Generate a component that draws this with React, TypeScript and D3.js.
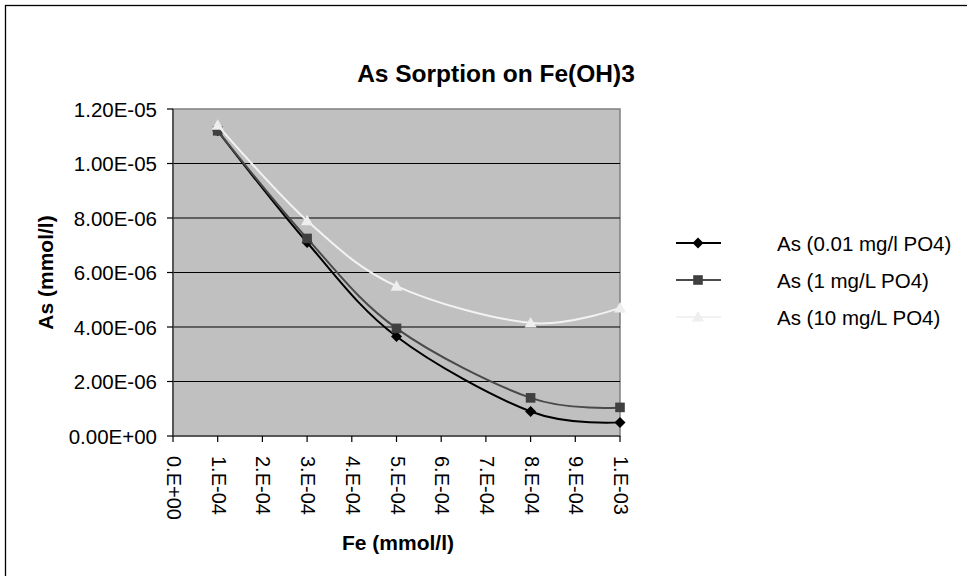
import React from "react";
import * as d3 from "d3";

const feValues = [1e-4, 3e-4, 5e-4, 8e-4, 1e-3];
const seriesNames = ["As (0.01 mg/l PO4)", "As (1 mg/L PO4)", "As (10 mg/L PO4)"];
const asLowPO4 = [1.12e-5, 7.1e-6, 3.65e-6, 0.9e-6, 0.5e-6];
const asMidPO4 = [1.12e-5, 7.25e-6, 3.95e-6, 1.4e-6, 1.05e-6];
const asHighPO4 = [1.14e-5, 7.9e-6, 5.5e-6, 4.15e-6, 4.7e-6];
const yTicks = [0, 2e-6, 4e-6, 6e-6, 8e-6, 1e-5, 1.2e-5];
const yTickLabels = ["0.00E+00", "2.00E-06", "4.00E-06", "6.00E-06", "8.00E-06", "1.00E-05", "1.20E-05"];
const xTicks = [0, 1e-4, 2e-4, 3e-4, 4e-4, 5e-4, 6e-4, 7e-4, 8e-4, 9e-4, 1e-3];
const xTickLabels = ["0.E+00", "1.E-04", "2.E-04", "3.E-04", "4.E-04", "5.E-04", "6.E-04", "7.E-04", "8.E-04", "9.E-04", "1.E-03"];

const FONT = "'Liberation Sans', Arial, sans-serif";

const styles = [
  { line: "#000000", fill: "#000000", marker: "diamond" },
  { line: "#4a4a4a", fill: "#404040", marker: "square" },
  { line: "#f2f2f2", fill: "#eeeeee", marker: "triangle" },
];

function Marker({ type, x, y, fill }: { type: string; x: number; y: number; fill: string }) {
  if (type === "diamond") {
    const r = 5.5;
    return <path d={`M${x},${y - r}L${x + r},${y}L${x},${y + r}L${x - r},${y}Z`} fill={fill} />;
  }
  if (type === "square") {
    const r = 4.8;
    return <rect x={x - r} y={y - r} width={2 * r} height={2 * r} fill={fill} />;
  }
  const r = 6;
  return <path d={`M${x},${y - r}L${x + r},${y + r * 0.75}L${x - r},${y + r * 0.75}Z`} fill={fill} />;
}

export default function App() {
  const W = 967, H = 576;
  const left = 173, right = 620, top = 109, bottom = 436;
  const x = d3.scaleLinear().domain([0, 1e-3]).range([left, right]);
  const y = d3.scaleLinear().domain([0, 1.2e-5]).range([bottom, top]);
  const data = [asLowPO4, asMidPO4, asHighPO4];
  const line = d3
    .line<[number, number]>()
    .x((d) => x(d[0]))
    .y((d) => y(d[1]))
    .curve(d3.curveCardinal.tension(0));

  const legendY = [243, 280, 317];

  return (
    <svg width={W} height={H} style={{ position: "absolute", left: 0, top: 0 }} fontFamily={FONT}>
      <rect x={0} y={0} width={W} height={H} fill="#ffffff" />
      <rect x={5.5} y={5.5} width={W + 20} height={H + 20} fill="none" stroke="#000" strokeWidth={1.3} />
      <text x={496} y={82} textAnchor="middle" fontSize={24.5} fontWeight="bold" fill="#000">
        As Sorption on Fe(OH)3
      </text>
      {/* plot area */}
      <rect x={left} y={top} width={right - left} height={bottom - top} fill="#c0c0c0" stroke="#808080" strokeWidth={1.5} />
      {yTicks.slice(1, -1).map((t) => (
        <line key={t} x1={left} x2={right} y1={y(t)} y2={y(t)} stroke="#000" strokeWidth={1.2} />
      ))}
      {/* axes */}
      <line x1={left} x2={left} y1={top} y2={bottom} stroke="#404040" strokeWidth={1.5} />
      <line x1={left} x2={right} y1={bottom} y2={bottom} stroke="#404040" strokeWidth={1.5} />
      {yTicks.map((t, i) => (
        <g key={t}>
          <line x1={left - 6} x2={left} y1={y(t)} y2={y(t)} stroke="#000" strokeWidth={1.2} />
          <text x={157} y={y(t)} textAnchor="end" dominantBaseline="central" fontSize={20.5} fill="#000">
            {yTickLabels[i]}
          </text>
        </g>
      ))}
      {xTicks.map((t, i) => (
        <g key={t}>
          <line x1={x(t)} x2={x(t)} y1={bottom} y2={bottom + 6} stroke="#000" strokeWidth={1.2} />
          <text
            transform={`translate(${x(t) + 1},${456}) rotate(90)`}
            textAnchor="start"
            dominantBaseline="central"
            fontSize={20}
            fill="#000"
          >
            {xTickLabels[i]}
          </text>
        </g>
      ))}
      {/* series */}
      {data.map((vals, si) => {
        const pts = feValues.map((f, j) => [f, vals[j]] as [number, number]);
        return (
          <g key={si}>
            <path d={line(pts) || ""} fill="none" stroke={styles[si].line} strokeWidth={2} />
            {pts.map((p, j) => (
              <Marker key={j} type={styles[si].marker} x={x(p[0])} y={y(p[1])} fill={styles[si].fill} />
            ))}
          </g>
        );
      })}
      {/* axis titles */}
      <text x={398} y={550} textAnchor="middle" fontSize={21} fontWeight="bold" fill="#000">
        Fe (mmol/l)
      </text>
      <text
        transform={`translate(53,${(top + bottom) / 2}) rotate(-90)`}
        textAnchor="middle"
        fontSize={21}
        fontWeight="bold"
        fill="#000"
      >
        As (mmol/l)
      </text>
      {/* legend */}
      {seriesNames.map((n, i) => (
        <g key={n}>
          <line x1={676} x2={721} y1={legendY[i]} y2={legendY[i]} stroke={styles[i].line} strokeWidth={2} />
          <Marker type={styles[i].marker} x={698} y={legendY[i]} fill={styles[i].fill} />
          <text x={777} y={legendY[i]} dominantBaseline="central" fontSize={20.5} fill="#000">
            {n}
          </text>
        </g>
      ))}
    </svg>
  );
}
